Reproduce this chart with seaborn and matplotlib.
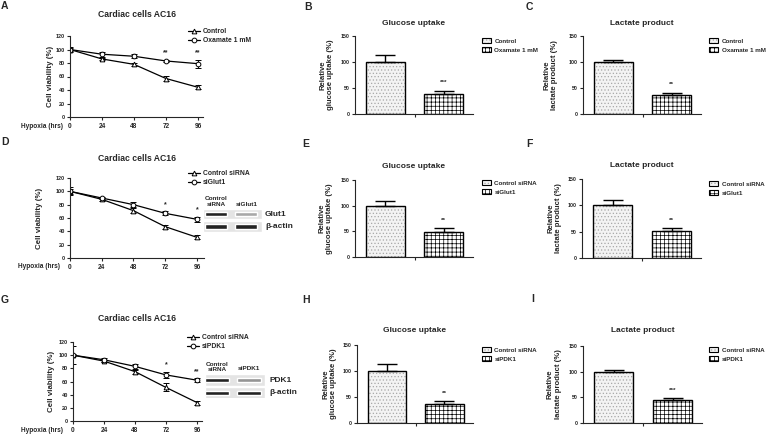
import matplotlib
matplotlib.use("Agg")
import matplotlib.pyplot as plt
from matplotlib.patches import Patch, Rectangle
from matplotlib.legend_handler import HandlerTuple
import pandas as pd
import seaborn as sns

# Donnees
hours = [0, 24, 48, 72, 96]

a_ctrl = [100, 86, 78, 57, 44]
a_ctrl_err = [3, 2, 2, 4, 3]
a_trt = [100, 93, 90, 83, 79]
a_trt_err = [2, 4, 3, 2, 6]
a_sig = ["", "", "", "**", "**"]

d_ctrl = [100, 88, 71, 47, 31]
d_ctrl_err = [6, 2, 4, 3, 3]
d_trt = [100, 90, 80, 67, 58]
d_trt_err = [4, 2, 4, 3, 4]
d_sig = ["", "", "", "*", "*"]

g_ctrl = [100, 91, 75, 51, 28]
g_ctrl_err = [14, 2, 3, 6, 3]
g_trt = [100, 93, 83, 70, 62]
g_trt_err = [2, 3, 4, 5, 3]
g_sig = ["", "", "", "*", "**"]

labels_oxa = ["Control", "Oxamate 1 mM"]
labels_glut = ["Control siRNA", "siGlut1"]
labels_pdk = ["Control siRNA", "siPDK1"]

b_vals, b_err, b_sig = [100, 39], [13, 6], "***"
c_vals, c_err, c_sig = [100, 36], [4, 5], "**"
e_vals, e_err, e_sig = [100, 49], [9, 7], "**"
f_vals, f_err, f_sig = [100, 52], [11, 5], "**"
h_vals, h_err, h_sig = [100, 37], [13, 5], "**"
i_vals, i_err, i_sig = [100, 45], [3, 4], "***"

# intensite des bandes (western blot)
glut1_bands = [0.95, 0.3]
actin_d_bands = [0.95, 0.95]
pdk1_bands = [0.95, 0.4]
actin_g_bands = [0.95, 0.95]

sns.set_style("ticks")
plt.rcParams["font.family"] = ["Liberation Sans", "DejaVu Sans"]
plt.rcParams["font.weight"] = "bold"
plt.rcParams["axes.labelweight"] = "bold"
plt.rcParams["axes.titleweight"] = "bold"
plt.rcParams["hatch.linewidth"] = 0.5
plt.rcParams["axes.linewidth"] = 0.8

W, H = 767, 434
fig = plt.figure(figsize=(W / 100, H / 100), dpi=100)


def add_ax(l, t, r, b):
    return fig.add_axes([l / W, 1 - b / H, (r - l) / W, (b - t) / H])


def legend_at(ax, handles, labels, x, y, fs, **kw):
    ax.legend(handles, labels, loc="upper left", bbox_to_anchor=(x / W, 1 - y / H),
              bbox_transform=fig.transFigure, frameon=False, borderpad=0,
              borderaxespad=0, fontsize=fs, **kw)


def line_panel(ax, ctrl, ctrl_err, trt, trt_err, sig, labels, xmax, ylab_x, pad, leg):
    handles = []
    for vals, errs, mk in [(ctrl, ctrl_err, "^"), (trt, trt_err, "o")]:
        ax.errorbar(hours, vals, yerr=errs, fmt="none", ecolor="black",
                    elinewidth=0.7, capsize=2, capthick=0.7)
        sns.lineplot(x=hours, y=vals, ax=ax, color="black", lw=0.9, marker=mk,
                     markersize=3.4, markerfacecolor="white", markeredgecolor="black",
                     markeredgewidth=0.7, legend=False)
        handles.append(ax.lines[-1])
    for x, s, a, ea, b, eb in zip(hours, sig, ctrl, ctrl_err, trt, trt_err):
        if s:
            ax.text(x, max(a + ea, b + eb) + 10, s, ha="center", va="center", fontsize=5)
    ax.set_xlim(0, xmax)
    ax.set_ylim(0, 120)
    ax.set_xticks(hours)
    ax.set_yticks(range(0, 121, 20))
    ax.tick_params(axis="y", labelsize=4, length=2.5, width=0.8, pad=1.2)
    ax.tick_params(axis="x", labelsize=4.7, length=2.5, width=0.8, pad=1.5)
    ax.set_ylabel("Cell viability (%)", fontsize=5.7)
    ax.yaxis.set_label_coords(ylab_x, 0.5)
    ax.set_title("Cardiac cells AC16", fontsize=6.2, pad=pad)
    sns.despine(ax=ax)
    legend_at(ax, handles, labels, leg[0], leg[1], 4.9, handlelength=1.8,
              handletextpad=0.35, labelspacing=0.3, numpoints=1)


bar_styles = [dict(facecolor="#f3f3f3", hatch=".....", edgecolor="#a8a8a8"),
              dict(facecolor="white", hatch="++++", edgecolor="black")]


def bar_panel(ax, vals, errs, sig, labels, title, ylabel, ylab_x, pad, leg):
    df = pd.DataFrame({"group": labels, "value": vals})
    sns.barplot(data=df, x="group", y="value", ax=ax, width=0.67, errorbar=None,
                color="white", saturation=1)
    for bar, st in zip(list(ax.patches), bar_styles):
        bar.set(linewidth=0, **st)
        ax.add_patch(Rectangle(bar.get_xy(), bar.get_width(), bar.get_height(), fill=False,
                               edgecolor="black", linewidth=1.0, zorder=bar.get_zorder() + 0.1))
    ax.errorbar([0, 1], vals, yerr=[[0, 0], errs], fmt="none", ecolor="black",
                elinewidth=1, capsize=7, capthick=1, zorder=5)
    ax.text(1, vals[1] + errs[1] + 15, sig, ha="center", va="center", fontsize=4.6)
    ax.set_xlim(-0.52, 1.5)
    ax.set_ylim(0, 150)
    ax.set_yticks([0, 50, 100, 150])
    ax.set_xticks([0.5])
    ax.set_xticklabels([""])
    ax.set_xlabel("")
    ax.tick_params(axis="y", labelsize=3.8, length=2.5, width=0.8, pad=1.2)
    ax.tick_params(axis="x", length=2, width=0.8)
    ax.set_ylabel(ylabel, fontsize=5.6, linespacing=1.15)
    ax.yaxis.set_label_coords(ylab_x, 0.5)
    ax.set_title(title, fontsize=6, pad=pad)
    sns.despine(ax=ax)
    handles = [(Patch(linewidth=0, **st), Patch(fill=False, edgecolor="black", linewidth=0.8))
               for st in bar_styles]
    legend_at(ax, handles, labels, leg[0], leg[1], 4.5, handlelength=1.5, handleheight=0.8,
              handletextpad=0.5, labelspacing=0.55,
              handler_map={tuple: HandlerTuple(ndivide=1, pad=0)})


def blot_panel(ax, target, actin, xlim, ylim):
    lanes = [0, 1]
    for row, ints in zip([0, 1], [target, actin]):
        ax.barh([row], [xlim[1] - xlim[0]], left=xlim[0], height=0.85, color="#e4e4e4")
        ax.barh([row, row], [0.74, 0.74], left=[l - 0.37 for l in lanes], height=0.36,
                color=[plt.cm.gray_r(0.1 + 0.8 * v) for v in ints])
    ax.set_xlim(*xlim)
    ax.set_ylim(*ylim)
    ax.axis("off")


# ligne 1
axA = add_ax(70, 36, 203, 117)
line_panel(axA, a_ctrl, a_ctrl_err, a_trt, a_trt_err, a_sig, labels_oxa, 99.75, -0.12, 13.7, (188, 28))
axB = add_ax(355, 36, 473, 114)
bar_panel(axB, b_vals, b_err, b_sig, labels_oxa, "Glucose uptake", "Relative\nglucose uptake (%)", -0.18, 8, (482, 38))
axC = add_ax(583, 36, 701, 114)
bar_panel(axC, c_vals, c_err, c_sig, labels_oxa, "Lactate product", "Relative\nlactate product (%)", -0.21, 8, (709, 38))

# ligne 2
axD = add_ax(70, 178, 204, 258)
line_panel(axD, d_ctrl, d_ctrl_err, d_trt, d_trt_err, d_sig, labels_glut, 101.3, -0.2, 12.2, (188, 170))
axE = add_ax(355, 180, 473, 257)
bar_panel(axE, e_vals, e_err, e_sig, labels_glut, "Glucose uptake", "Relative\nglucose uptake (%)", -0.186, 8.6, (482, 180))
axF = add_ax(582, 179, 701, 258)
bar_panel(axF, f_vals, f_err, f_sig, labels_glut, "Lactate product", "Relative\nlactate product (%)", -0.17, 8.6, (709, 181))

# ligne 3
axG = add_ax(73, 342, 202, 421)
line_panel(axG, g_ctrl, g_ctrl_err, g_trt, g_trt_err, g_sig, labels_pdk, 99.9, -0.14, 15.1, (187, 334))
axH = add_ax(357, 345, 473, 423)
bar_panel(axH, h_vals, h_err, h_sig, labels_pdk, "Glucose uptake", "Relative\nglucose uptake (%)", -0.17, 9.4, (482, 347))
axI = add_ax(583, 346, 702, 423)
bar_panel(axI, i_vals, i_err, i_sig, labels_pdk, "Lactate product", "Relative\nlactate product (%)", -0.18, 10, (709, 347))

# western blots
blotD = add_ax(203, 209, 262, 234)
blot_panel(blotD, glut1_bands, actin_d_bands, (-0.45, 1.55), (1.6, -0.4))
blotG = add_ax(205, 375, 265, 398)
blot_panel(blotG, pdk1_bands, actin_g_bands, (-0.375, 1.5), (1.385, -0.385))

txt = dict(ha="center", va="center", fontsize=4.6, linespacing=1.0)
fig.text(216 / W, 1 - 201.5 / H, "Control\nsiRNA", **txt)
fig.text(246.5 / W, 1 - 205 / H, "siGlut1", **txt)
fig.text(217 / W, 1 - 367 / H, "Control\nsiRNA", **txt)
fig.text(249 / W, 1 - 369 / H, "siPDK1", **txt)
fig.text(265 / W, 1 - 214 / H, "Glut1", ha="left", va="center", fontsize=6)
fig.text(265 / W, 1 - 227 / H, "β-actin", ha="left", va="center", fontsize=6)
fig.text(270 / W, 1 - 380 / H, "PDK1", ha="left", va="center", fontsize=6)
fig.text(269 / W, 1 - 393 / H, "β-actin", ha="left", va="center", fontsize=6)

# libelles axe x
for x, y in [(63, 126), (60, 267), (63, 430)]:
    fig.text(x / W, 1 - y / H, "Hypoxia (hrs)", ha="right", va="center", fontsize=4.7)

# lettres des panneaux
for s, x, y in [("A", 1, 1), ("B", 304, 2), ("C", 526, 2),
                ("D", 1, 137), ("E", 302, 139), ("F", 526, 139),
                ("G", 1, 295), ("H", 302, 295), ("I", 531, 294)]:
    fig.text(x / W, 1 - y / H, s, ha="left", va="top", fontsize=7.5)

fig.savefig("out.png", dpi=100)
